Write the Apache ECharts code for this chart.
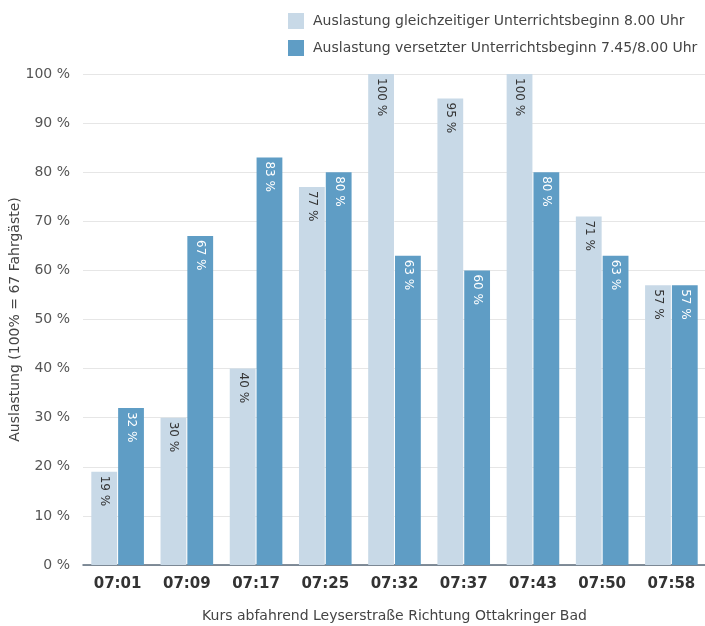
<!DOCTYPE html>
<html><head><meta charset="utf-8">
<script src="https://cdn.jsdelivr.net/npm/echarts@6/dist/echarts.min.js"></script>
<style>html,body{margin:0;padding:0;background:#fff}#c{width:705px;height:626px}</style>
</head><body><div id="c"></div>
<script>
var categories = ['07:01','07:09','07:17','07:25','07:32','07:37','07:43','07:50','07:58'];
var seriesNames = ['Auslastung gleichzeitiger Unterrichtsbeginn 8.00 Uhr','Auslastung versetzter Unterrichtsbeginn 7.45/8.00 Uhr'];
var simultaneous = [19,30,40,77,100,95,100,71,57];
var staggered = [32,67,83,80,63,60,80,63,57];
var yAxisName = 'Auslastung (100% = 67 Fahrgäste)';
var xAxisName = 'Kurs abfahrend Leyserstraße Richtung Ottakringer Bad';

var font = 'DejaVu Sans';
var chart = echarts.init(document.getElementById('c'));
function lbl(color){
  return {show:true, position:'insideTop', rotate:-90, distance:4, align:'left', verticalAlign:'middle',
    formatter:function(p){return p.value+' %';}, color:color, fontSize:12, fontFamily:font};
}
chart.setOption({
  animation:false,
  textStyle:{fontFamily:font},
  legend:{orient:'vertical', left:283, top:8, itemWidth:16, itemHeight:16, itemGap:11,
    icon:'rect', textStyle:{fontSize:14, color:'#444', fontFamily:font, padding:[0,0,0,4]}},
  grid:{left:83, right:-1, top:74, bottom:61, containLabel:false, outerBoundsMode:'none'},
  xAxis:{type:'category', data:categories,
    axisLine:{lineStyle:{color:'#5a6a7a', width:1.5}}, axisTick:{show:false},
    axisLabel:{fontSize:15, fontWeight:'bold', color:'#333', margin:12, fontFamily:font},
    name:xAxisName, nameLocation:'middle', nameGap:44,
    nameTextStyle:{fontSize:14, color:'#444', fontFamily:font}},
  yAxis:{type:'value', min:0, max:100, interval:10,
    axisLabel:{formatter:'{value} %', fontSize:14, color:'#555', margin:13, fontFamily:font},
    splitLine:{lineStyle:{color:'#e6e6e6'}}, axisLine:{show:false}, axisTick:{show:false},
    name:yAxisName, nameLocation:'middle', nameGap:61, nameRotate:90, nameMoveOverlap:false,
    nameTextStyle:{fontSize:14, color:'#444', fontFamily:font}},
  series:[
    {name:seriesNames[0], type:'bar', data:simultaneous, barGap:'4%', barCategoryGap:'24%',
      itemStyle:{color:'#c8d9e7'}, label:lbl('#333')},
    {name:seriesNames[1], type:'bar', data:staggered,
      itemStyle:{color:'#5f9dc5'}, label:lbl('#ffffff')}
  ]
});
</script></body></html>
